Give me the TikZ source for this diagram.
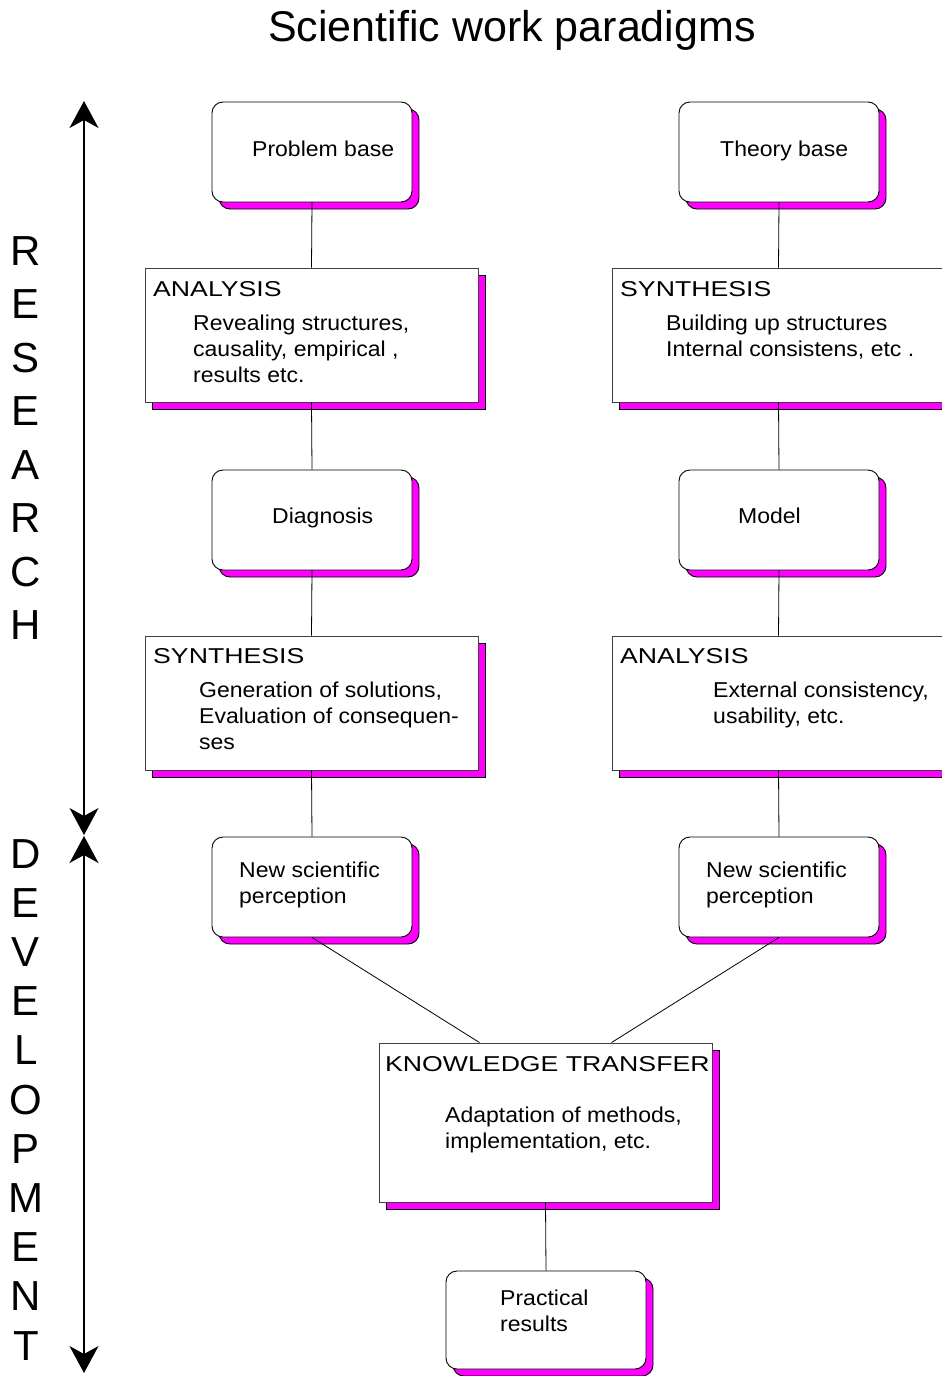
\documentclass[tikz,border=0pt]{standalone}
\usepackage{fontspec}
\setmainfont{Liberation Sans}
\newfontfamily\bodyfont[FakeStretch=1.07]{Liberation Sans}
\newfontfamily\headfont[FakeStretch=1.24]{Liberation Sans}
\usetikzlibrary{shadows,arrows.meta}
\definecolor{shadowpink}{RGB}{255,0,255}
\tikzset{
  pinkshadow/.style={general shadow={shadow xshift=7pt,shadow yshift=-7pt,fill=shadowpink,draw=black,line width=0.9pt}},
  roundbox/.style={draw=black,fill=white,line width=0.9pt,rounded corners=11pt,
    minimum width=200pt,minimum height=100pt,inner sep=0pt,pinkshadow},
  squarebox/.style={draw=black!75,fill=white,line width=0.9pt,
    minimum width=333pt,minimum height=134pt,inner sep=0pt,pinkshadow},
  bodytext/.style={anchor=base west,inner sep=0pt,font=\bodyfont\fontsize{21.5}{26}\selectfont},
  headtext/.style={anchor=base west,inner sep=0pt,font=\headfont\fontsize{21.5}{26}\selectfont},
  sideletter/.style={anchor=base,inner sep=0pt,font=\fontsize{42}{48}\selectfont},
  titletext/.style={anchor=base,inner sep=0pt,font=\fontsize{43}{50}\selectfont},
  link/.style={draw=black,line width=0.8pt},
  spanarrow/.style={line width=1.3pt,
    {Stealth[length=27pt,width=29pt,inset=8pt]}-{Stealth[length=27pt,width=29pt,inset=8pt]}},
}
\begin{document}
\begin{tikzpicture}[x=1pt,y=-1pt]
\useasboundingbox (0,0) rectangle (942,1376);
\clip (0,0) rectangle (942,1376);

% title
\node[titletext] (title) at (512,41) {Scientific work paradigms};

% research / development spans
\coordinate (rtop) at (84,101);
\coordinate (rbot) at (84,835);
\coordinate (dtop) at (84,836);
\coordinate (dbot) at (84,1373);
\draw[spanarrow] (rtop) -- (rbot);
\draw[spanarrow] (dtop) -- (dbot);

\foreach \ch [count=\i] in {R,E,S,E,A,R,C,H}
  \node[sideletter] (res\i) at (26,{265+53.5*(\i-1)}) {\ch};
\foreach \ch [count=\i] in {D,E,V,E,L,O,P,M,E,N,T}
  \node[sideletter] (dev\i) at (26,{868+49.2*(\i-1)}) {\ch};

% left column
\node[roundbox] (pb) at (312,152) {};
\node[bodytext] (pbt) at (252,156) {Problem base};

\node[squarebox] (an1) at (311.5,335) {};
\node[headtext] (an1h) at (153,296) {ANALYSIS};
\node[bodytext] (an1a) at (193,330) {Revealing structures,};
\node[bodytext] (an1b) at (193,356) {causality, empirical ,};
\node[bodytext] (an1c) at (193,382) {results etc.};

\node[roundbox] (dg) at (312,520) {};
\node[bodytext] (dgt) at (272,523) {Diagnosis};

\node[squarebox] (sy1) at (311.5,703) {};
\node[headtext] (sy1h) at (153,663) {SYNTHESIS};
\node[bodytext] (sy1a) at (199,697) {Generation of solutions,};
\node[bodytext] (sy1b) at (199,723) {Evaluation of consequen-};
\node[bodytext] (sy1c) at (199,749) {ses};

\node[roundbox] (ns1) at (312,887) {};
\node[bodytext] (ns1a) at (239,877) {New scientific};
\node[bodytext] (ns1b) at (239,903) {perception};

% right column
\node[roundbox] (tb) at (779,152) {};
\node[bodytext] (tbt) at (720,156) {Theory base};

\node[squarebox] (sy2) at (778.5,335) {};
\node[headtext] (sy2h) at (620,296) {SYNTHESIS};
\node[bodytext] (sy2a) at (666,330) {Building up structures};
\node[bodytext] (sy2b) at (666,356) {Internal consistens, etc .};

\node[roundbox] (md) at (779,520) {};
\node[bodytext] (mdt) at (738,523) {Model};

\node[squarebox] (an2) at (778.5,703) {};
\node[headtext] (an2h) at (620,663) {ANALYSIS};
\node[bodytext] (an2a) at (713,697) {External consistency,};
\node[bodytext] (an2b) at (713,723) {usability, etc.};

\node[roundbox] (ns2) at (779,887) {};
\node[bodytext] (ns2a) at (706,877) {New scientific};
\node[bodytext] (ns2b) at (706,903) {perception};

% knowledge transfer and results
\node[squarebox,minimum height=159pt] (kt) at (545.5,1122.5) {};
\node[headtext] (kth) at (385,1071) {KNOWLEDGE TRANSFER};
\node[bodytext] (kta) at (445,1122) {Adaptation of methods,};
\node[bodytext] (ktb) at (445,1148) {implementation, etc.};

\node[roundbox,minimum height=98pt] (pr) at (546,1320) {};
\node[bodytext] (pra) at (500,1305) {Practical};
\node[bodytext] (prb) at (500,1331) {results};

% connectors
\draw[link] (pb.south) -- (an1.north);
\draw[link] (an1.south) -- (dg.north);
\draw[link] (dg.south) -- (sy1.north);
\draw[link] (sy1.south) -- (ns1.north);
\draw[link] (tb.south) -- (sy2.north);
\draw[link] (sy2.south) -- (md.north);
\draw[link] (md.south) -- (an2.north);
\draw[link] (an2.south) -- (ns2.north);
\draw[link] (ns1.south) -- ([xshift=-66pt]kt.north);
\draw[link] (ns2.south) -- ([xshift=66pt]kt.north);
\draw[link] (kt.south) -- (pr.north);
\end{tikzpicture}
\end{document}
